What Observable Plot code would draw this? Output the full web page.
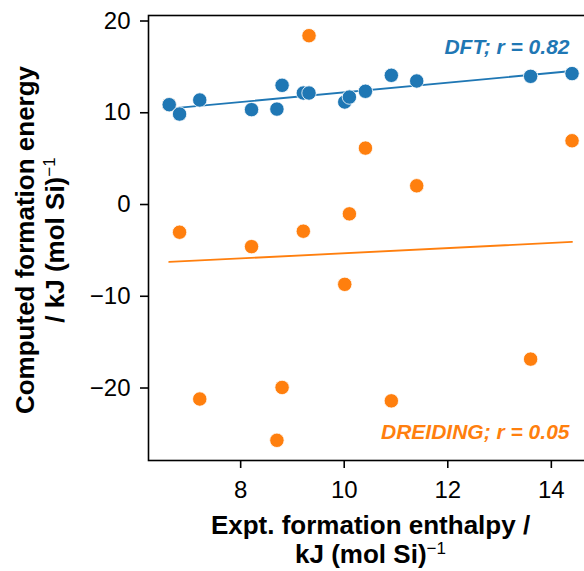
<!DOCTYPE html>
<html>
<head>
<meta charset="utf-8">
<script src="https://cdn.jsdelivr.net/npm/d3@7"></script>
<script src="https://cdn.jsdelivr.net/npm/@observablehq/plot@0.6"></script>
<style>
  html, body { margin: 0; padding: 0; background: #fff; overflow: hidden; }
  #chart svg { max-width: none !important; width: 594px !important; height: 571px !important; }
</style>
</head>
<body>
<div id="chart"></div>
<script>
// Experimental formation enthalpy (kJ (mol Si)^-1)
const expt = [6.62, 6.82, 7.21, 8.21, 8.70, 8.80, 9.21, 9.32, 10.01, 10.10, 10.41, 10.91, 11.40, 13.60, 14.40];
// Computed formation energies
const dft = [10.88, 9.86, 11.39, 10.34, 10.40, 12.99, 12.15, 12.15, 11.17, 11.71, 12.34, 14.08, 13.46, 13.97, 14.27];
const dreiding = [10.88, -3.02, -21.2, -4.59, -25.7, -19.94, -2.91, 18.4, -8.70, -1.02, 6.15, -21.4, 2.04, -16.85, 6.95];

const methods = ["DFT", "DREIDING"];
const rValues = ["0.82", "0.05"];
const colors = ["#1f77b4", "#ff7f0e"];

const xTicks = [8, 10, 12, 14];
const yTicks = [-20, -10, 0, 10, 20];
const xDomain = [6.22, 14.795];
const yDomain = [-27.9, 20.6];

const SUP = "\u207B\u00B9";
const xLabel = ["Expt. formation enthalpy /", "kJ (mol Si)" + SUP];
const yLabel = ["Computed formation energy", "/ kJ (mol Si)" + SUP];

const rows = [];
expt.forEach((x, i) => {
  rows.push({method: methods[0], x, y: dft[i]});
  rows.push({method: methods[1], x, y: dreiding[i]});
});
const dftRows = rows.filter(d => d.method === methods[0]);
const drRows = rows.filter(d => d.method === methods[1]);

const font = "'Liberation Sans', Arial, Helvetica, sans-serif";
const annot = methods.map((m, i) => `${m}; r = ${rValues[i]}`);

const chart = Plot.plot({
  width: 594,
  height: 571,
  marginLeft: 148,
  marginRight: 2,
  marginTop: 15,
  marginBottom: 111,
  style: {fontFamily: font, fontSize: "24px", color: "black", background: "white", overflow: "visible", maxWidth: "none"},
  x: {domain: xDomain},
  y: {domain: yDomain},
  marks: [
    Plot.axisX({ticks: xTicks, tickSize: 8, tickPadding: 12, strokeWidth: 1.6, label: null, fontSize: 24}),
    Plot.axisY({ticks: yTicks, tickSize: 8, tickPadding: 10, strokeWidth: 1.6, label: null, fontSize: 24,
      tickFormat: d => String(d).replace("-", "\u2212")}),
    Plot.linearRegressionY(drRows, {x: "x", y: "y", stroke: colors[1], strokeWidth: 1.8, ci: 0}),
    Plot.linearRegressionY(dftRows, {x: "x", y: "y", stroke: colors[0], strokeWidth: 1.8, ci: 0}),
    Plot.dot(drRows, {x: "x", y: "y", fill: colors[1], stroke: "white", strokeWidth: 0.8, r: 7.2}),
    Plot.dot(dftRows, {x: "x", y: "y", fill: colors[0], stroke: "white", strokeWidth: 0.8, r: 7.2}),
    Plot.frame({stroke: "black", strokeWidth: 1.6}),
    Plot.text([annot[0]], {text: d => d, frameAnchor: "top-right", textAnchor: "end", lineAnchor: "middle",
      dx: -23, dy: 31.6, fill: colors[0], fontSize: 21, fontWeight: "bold", fontStyle: "italic"}),
    Plot.text([annot[1]], {text: d => d, frameAnchor: "bottom-right", textAnchor: "end", lineAnchor: "middle",
      dx: -23, dy: -28.4, fill: colors[1], fontSize: 21, fontWeight: "bold", fontStyle: "italic"}),
    Plot.text([xLabel[0]], {text: d => d, frameAnchor: "bottom", textAnchor: "middle", lineAnchor: "middle",
      dy: 64.7, fontSize: 26, fontWeight: "bold", fill: "black"}),
    Plot.text([xLabel[1]], {text: d => d, frameAnchor: "bottom", textAnchor: "middle", lineAnchor: "middle",
      dy: 93.7, fontSize: 26, fontWeight: "bold", fill: "black"}),
    Plot.text([yLabel[0]], {text: d => d, frameAnchor: "left", textAnchor: "middle", lineAnchor: "middle",
      rotate: -90, dx: -123, dy: 2, fontSize: 26, fontWeight: "bold", fill: "black"}),
    Plot.text([yLabel[1]], {text: d => d, frameAnchor: "left", textAnchor: "middle", lineAnchor: "middle",
      rotate: -90, dx: -93, dy: 2, fontSize: 26, fontWeight: "bold", fill: "black"})
  ]
});
document.getElementById("chart").appendChild(chart);

// Render the "−1" exponent as a raised, smaller tspan (like mathtext)
d3.select(chart).selectAll("text").each(function() {
  const t = this.textContent;
  if (t.endsWith(SUP) && this.childElementCount === 0) {
    const base = t.slice(0, -SUP.length);
    const sel = d3.select(this);
    const origDy = sel.attr("dy");
    sel.text(null);
    sel.append("tspan").text(base);
    sel.append("tspan").attr("dy", "-9").attr("font-size", 17).attr("font-weight", "normal").text("\u22121");
    if (origDy != null) sel.attr("dy", origDy);
  }
});
</script>
</body>
</html>
